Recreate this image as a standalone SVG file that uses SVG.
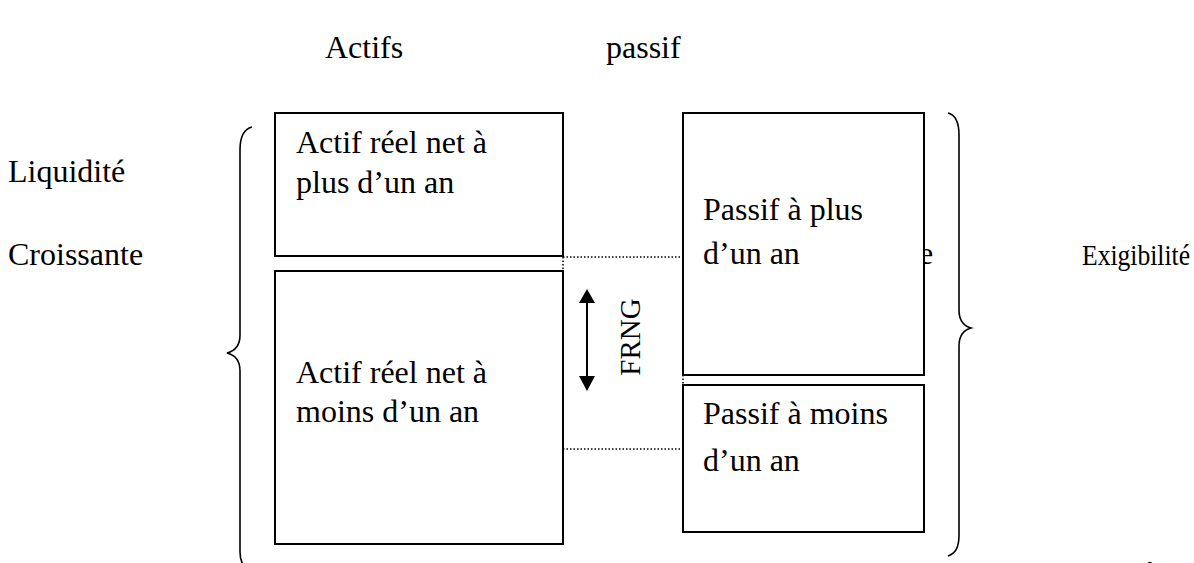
<svg xmlns="http://www.w3.org/2000/svg" width="1194" height="563" viewBox="0 0 1194 563">
  <style>
    text { font-family: "Liberation Serif", "Times New Roman", serif; font-size: 32px; fill: #000; }
    .side { font-size: 30px; }
    .frng { font-size: 29px; }
    .box { fill: #fff; stroke: #000; stroke-width: 2; }
    .brace { fill: none; stroke: #000; stroke-width: 1.6; }
    .dot { fill: none; stroke: #000; stroke-width: 1.5; stroke-dasharray: 1.5 2; }
    .arrow { stroke: #000; stroke-width: 2; }
  </style>

  <rect width="1194" height="563" fill="#fff"/>

  <!-- column headings and side labels -->
  <g id="labels">
    <text x="325" y="58">Actifs</text>
    <text x="606" y="58">passif</text>
    <text x="8" y="182">Liquidité</text>
    <text x="8" y="265">Croissante</text>
    <text class="side" x="1082" y="265" textLength="108" lengthAdjust="spacingAndGlyphs">Exigibilité</text>
    <text x="919" y="264">e</text>
    <text x="1146" y="584">`</text>
  </g>

  <!-- working-capital connectors -->
  <g id="connectors">
    <path class="dot" d="M563,257 H683 V449 H563"/>
    <path class="dot" d="M563,257 V271"/>
    <line class="arrow" x1="587" y1="303" x2="587" y2="376"/>
    <path d="M587,289 L579,303 L595,303 Z" fill="#000"/>
    <path d="M587,391 L579,376 L595,376 Z" fill="#000"/>
    <text class="frng" transform="translate(640,337) rotate(-90)" text-anchor="middle">FRNG</text>
  </g>

  <g id="brace-left">
    <path class="brace" d="M252,127 C244,129 240,137 240,150 L240,335 C240,345 235,351 227,353 C235,355 240,361 240,371 L240,552 C240,561 243,566 247,570"/>
  </g>
  <g id="brace-right">
    <path class="brace" d="M948,113 C956,115 959,122 959,135 L959,310 C959,320 964,326 971,328 C964,330 959,336 959,346 L959,535 C959,547 956,553 948,556"/>
  </g>

  <g id="actif-plus">
    <rect class="box" x="275" y="113" width="288" height="143"/>
    <text x="296" y="153">Actif réel net à</text>
    <text x="296" y="193">plus d’un an</text>
  </g>

  <g id="actif-moins">
    <rect class="box" x="275" y="271" width="288" height="273"/>
    <text x="296" y="383">Actif réel net à</text>
    <text x="296" y="422">moins d’un an</text>
  </g>

  <g id="passif-plus">
    <rect class="box" x="683" y="113" width="241" height="262"/>
    <text x="703" y="220">Passif à plus</text>
    <text x="703" y="264">d’un an</text>
  </g>

  <g id="passif-moins">
    <rect class="box" x="683" y="385" width="241" height="147"/>
    <text x="703" y="424">Passif à moins</text>
    <text x="703" y="471">d’un an</text>
  </g>
</svg>
